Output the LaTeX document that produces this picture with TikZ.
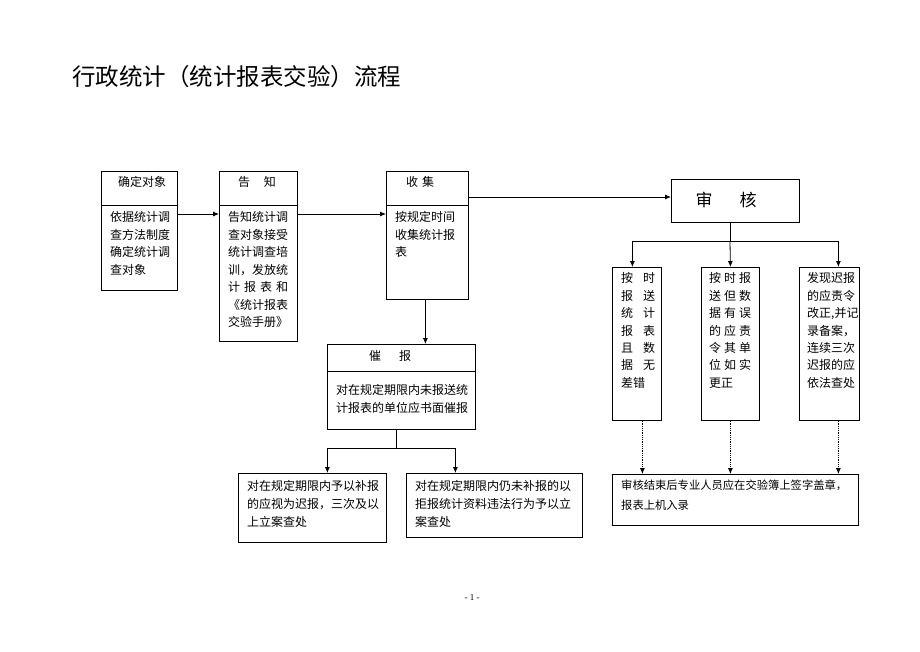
\documentclass[tikz,border=0pt]{standalone}
\usepackage{fontspec}
\setmainfont{Noto Sans CJK SC}
\newfontfamily\timesfont{Liberation Serif}
\usetikzlibrary{arrows.meta}
\newcommand{\sprd}[2]{\hbox to #1{#2}}
\begin{document}
\begin{tikzpicture}[x=1pt,y=-1pt,
  box/.style={draw, line width=0.8pt, inner sep=0pt, anchor=north west},
  txt/.style={inner sep=0pt, anchor=north west, align=left, font=\fontsize{12}{17.5}\selectfont},
  subtxt/.style={txt, font=\fontsize{12}{17.4}\selectfont},
  hdr/.style={inner sep=0pt, font=\fontsize{12}{14}\selectfont},
  conn/.style={line width=0.8pt},
  arr/.style={conn, -{Latex[length=6pt,width=5pt]}},
  darr/.style={arr, densely dotted}
]
\useasboundingbox[fill=white] (0,0) rectangle (920,651);

% title
\node[inner sep=0pt, anchor=west, font=\fontsize{23.5}{28}\selectfont] (title) at (72,77) {行政统计（统计报表交验）流程};

% boxes
\node[box, minimum width=76pt, minimum height=119pt] (b1) at (101,171) {};
\node[box, minimum width=78pt, minimum height=170pt] (b2) at (219,171) {};
\node[box, minimum width=82pt, minimum height=128pt] (b3) at (386,171) {};
\node[box, minimum width=128pt, minimum height=43pt] (sh) at (671,179) {};
\node[box, minimum width=148pt, minimum height=85pt] (cb) at (327,344) {};
\node[box, minimum width=148pt, minimum height=69pt] (L) at (238,473) {};
\node[box, minimum width=176pt, minimum height=64pt] (R) at (406,473) {};
\node[box, minimum width=49pt, minimum height=153pt] (A) at (612,267) {};
\node[box, minimum width=58pt, minimum height=153pt] (B) at (701,267) {};
\node[box, minimum width=60pt, minimum height=153pt] (C) at (799,267) {};
\node[box, minimum width=246pt, minimum height=51pt] (bt) at (612,474) {};

% header dividers
\draw[conn] ([yshift=-34pt]b1.north west) -- ([yshift=-34pt]b1.north east);
\draw[conn] ([yshift=-34pt]b2.north west) -- ([yshift=-34pt]b2.north east);
\draw[conn] ([yshift=-34pt]b3.north west) -- ([yshift=-34pt]b3.north east);
\draw[conn] ([yshift=-27pt]cb.north west) -- ([yshift=-27pt]cb.north east);

% headers
\node[hdr] (h1) at (142,182) {确定对象};
\node[hdr] (h2) at (257,182) {告\hspace{14pt}知};
\node[hdr] (h3) at (420,182) {收\hspace{4pt}集};
\node[hdr] (h4) at (390,356) {催\hspace{18pt}报};
\node[inner sep=0pt, font=\fontsize{17}{20}\selectfont] (h5) at (726,200) {审\hspace{27pt}核};

% body texts
\node[txt] (t1) at (110,211.5) {依据统计调\\查方法制度\\确定统计调\\查对象};
\node[txt] (t2) at (228,211.5) {告知统计调\\查对象接受\\统计调查培\\训，发放统\\\sprd{60pt}{计\hfill 报\hfill 表\hfill 和}\\《统计报表\\交验手册》};
\node[txt] (t3) at (395,211.5) {按规定时间\\收集统计报\\表};
\node[txt, font=\fontsize{12}{18}\selectfont] (t4) at (336,384.5) {对在规定期限内未报送统\\计报表的单位应书面催报};
\node[txt, font=\fontsize{12}{18}\selectfont] (tl) at (247,480.5) {对在规定期限内予以补报\\的应视为迟报，三次及以\\上立案查处};
\node[txt, font=\fontsize{12}{18}\selectfont] (tr) at (415,480.5) {对在规定期限内仍未补报的以\\拒报统计资料违法行为予以立\\案查处};
\node[subtxt] (ta) at (621,272.5) {\sprd{34pt}{按\hfill 时}\\\sprd{34pt}{报\hfill 送}\\\sprd{34pt}{统\hfill 计}\\\sprd{34pt}{报\hfill 表}\\\sprd{34pt}{且\hfill 数}\\\sprd{34pt}{据\hfill 无}\\差错};
\node[subtxt] (tb) at (709,272.5) {\sprd{42pt}{按\hfill 时\hfill 报}\\\sprd{42pt}{送\hfill 但\hfill 数}\\\sprd{42pt}{据\hfill 有\hfill 误}\\\sprd{42pt}{的\hfill 应\hfill 责}\\\sprd{42pt}{令\hfill 其\hfill 单}\\\sprd{42pt}{位\hfill 如\hfill 实}\\更正};
\node[subtxt] (tc) at (807,272.5) {发现迟报\\的应责令\\改正,并记\\录备案，\\连续三次\\迟报的应\\依法查处};
\node[txt, font=\fontsize{11.3}{20}\selectfont] (tbt) at (621,479.5) {审核结束后专业人员应在交验簿上签字盖章，\\报表上机入录};

% connectors
\draw[arr] ([yshift=-43pt]b1.north east) -- ([yshift=-43pt]b2.north west);
\draw[arr] ([yshift=-43pt]b2.north east) -- ([yshift=-43pt]b2.north east -| b3.west);
\draw[arr] ([yshift=-26pt]b3.north east) -- ([yshift=-26pt]b3.north east -| sh.west);
\draw[arr] ([xshift=-2pt]b3.south) -- ([xshift=-2pt]b3.south |- cb.north);

\coordinate (j1) at (396,448);
\draw[conn] (cb.south -| j1) -- (j1);
\draw[arr] (j1) -| ([xshift=15pt]L.north);
\draw[arr] (j1) -| ([xshift=-39pt]R.north);

\coordinate (j2) at (730,241);
\draw[conn] (sh.south -| j2) -- (j2);
\draw[arr] (j2) -| ([xshift=-4.5pt]A.north);
\draw[arr] (j2) -- (B.north);
\draw[arr] (j2) -| ([xshift=9pt]C.north);

\draw[darr] ([xshift=5.5pt]A.south) -- ([xshift=5.5pt]A.south |- bt.north);
\draw[darr] (B.south) -- (B.south |- bt.north);
\draw[darr] ([xshift=9pt]C.south) -- ([xshift=9pt]C.south |- bt.north);

% page number
\node[inner sep=0pt, font=\timesfont\fontsize{9}{11}\selectfont] (pg) at (472,598) {- 1 -};
\end{tikzpicture}
\end{document}
